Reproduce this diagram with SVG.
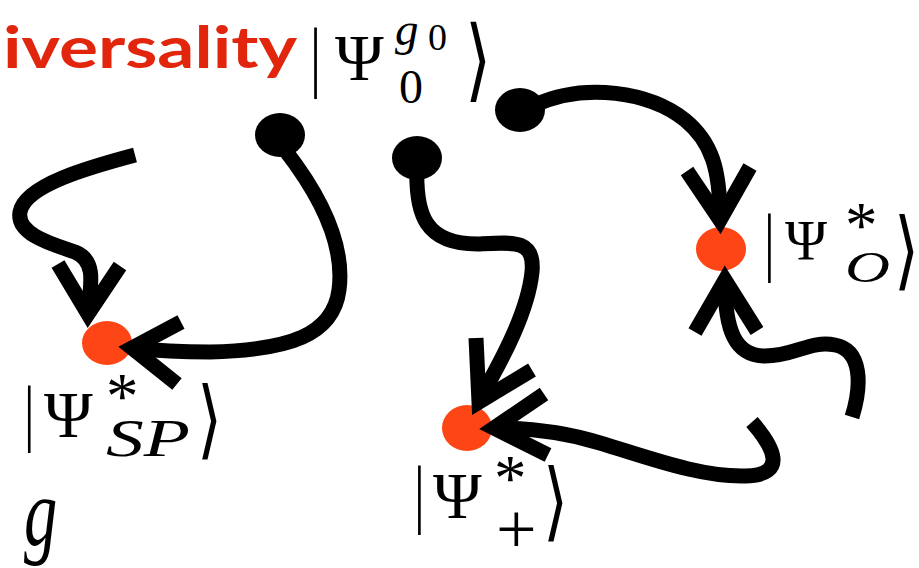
<svg xmlns="http://www.w3.org/2000/svg" width="919" height="568" viewBox="0 0 919 568">
<style>
.ln{fill:none;stroke:#000;stroke-width:15;stroke-linecap:butt;stroke-linejoin:round}
.ah{fill:none;stroke:#000;stroke-width:15;stroke-linecap:butt;stroke-linejoin:miter;stroke-miterlimit:10}
.ball{fill:#000}
.dot{fill:#FD4515}
.m{font-family:"Liberation Serif","DejaVu Serif",serif;fill:#000}
.mi{font-family:"Liberation Serif","DejaVu Serif",serif;font-style:italic;fill:#000}
.br{font-family:"DejaVu Sans","Liberation Serif",sans-serif;fill:#000}
.title{font-family:Lato,"Liberation Sans",sans-serif;font-weight:bold;fill:#E2260E}
</style>
<rect width="919" height="568" fill="#fff"/>
<g id="title">
<text class="title" x="3" y="68" font-size="57" textLength="294" lengthAdjust="spacingAndGlyphs">iversality</text>
</g>
<g id="psi0">
<text class="m" transform="translate(310,82) scale(0.7,1)" font-size="79">|</text>
<text class="m"><tspan x="335" y="80" font-size="66">Ψ</tspan><tspan class="mi" x="395" y="45" font-size="47">g</tspan><tspan x="428" y="50" font-size="38">0</tspan><tspan x="399" y="103" font-size="48">0</tspan></text>
<text class="br" transform="translate(465,90) scale(0.75,1)" font-size="90">⟩</text>
</g>
<g id="node-SP">
<ellipse class="dot" cx="107" cy="343" rx="25" ry="22"/>
<text class="m" transform="translate(24,437) scale(0.7,1)" font-size="75">|</text>
<text class="m"><tspan x="44" y="437" font-size="66">Ψ</tspan><tspan x="106" y="418" font-size="65">*</tspan><tspan class="mi" x="106" y="456" font-size="52" textLength="84" lengthAdjust="spacingAndGlyphs">SP</tspan></text>
<text class="br" transform="translate(197,448) scale(0.75,1)" font-size="86">⟩</text>
</g>
<g id="node-plus">
<ellipse class="dot" cx="467" cy="428" rx="25" ry="23"/>
<text class="m" transform="translate(414,519) scale(0.7,1)" font-size="77">|</text>
<text class="m"><tspan x="433" y="518" font-size="66">Ψ</tspan><tspan x="494" y="500" font-size="65">*</tspan><tspan x="496" y="553" font-size="72">+</tspan></text>
<text class="br" transform="translate(543,530) scale(0.75,1)" font-size="86">⟩</text>
</g>
<g id="node-O">
<ellipse class="dot" cx="721" cy="249" rx="25" ry="22"/>
<text class="m" transform="translate(764,267) scale(0.7,1)" font-size="77">|</text>
<text class="m"><tspan x="785" y="260" font-size="57">Ψ</tspan><tspan x="845" y="247" font-size="65">*</tspan><tspan class="mi" x="845" y="282" font-size="44" textLength="45" lengthAdjust="spacingAndGlyphs">O</tspan></text>
<text class="br" transform="translate(894,279) scale(0.75,1)" font-size="86">⟩</text>
</g>
<g id="g-label">
<text class="mi" transform="translate(24,545) scale(0.68,1)" font-size="98">g</text>
</g>
<g id="connectors">
<ellipse class="ball" cx="280" cy="135" rx="25" ry="22"/>
<ellipse class="ball" cx="417" cy="158" rx="25" ry="22"/>
<ellipse class="ball" cx="520" cy="110" rx="25" ry="22"/>
<path class="ln" d="M135,155 C90,167 25,185 20,212 C16,235 55,245 75,252 C95,260 92,280 88,312"/>
<polyline class="ah" points="58,264 88,314 120,266"/>
<path class="ln" d="M285,150 C320,195 345,245 339,290 C333,335 290,350 210,352 C180,352 150,350 132,348"/>
<polyline class="ah" points="181,322 132,348 177,384"/>
<path class="ln" d="M417,165 C415,215 425,245 480,244 C515,242 535,240 532,272 C528,310 505,355 479,400"/>
<polyline class="ah" points="476,338 479,402 532,370"/>
<path class="ln" d="M752,422 C772,445 790,475 745,476 C700,477 650,458 600,443 C565,432 530,428 494,428"/>
<polyline class="ah" points="544,394 494,428 548,455"/>
<path class="ln" d="M852,417 C862,385 862,350 835,345 C810,340 795,356 765,356 C735,356 725,330 725,282"/>
<polyline class="ah" points="695,332 725,280 757,331"/>
<path class="ln" d="M535,105 C585,82 650,92 685,120 C712,142 720,170 720,218"/>
<polyline class="ah" points="687,171 720,220 750,167"/>
</g>
</svg>
